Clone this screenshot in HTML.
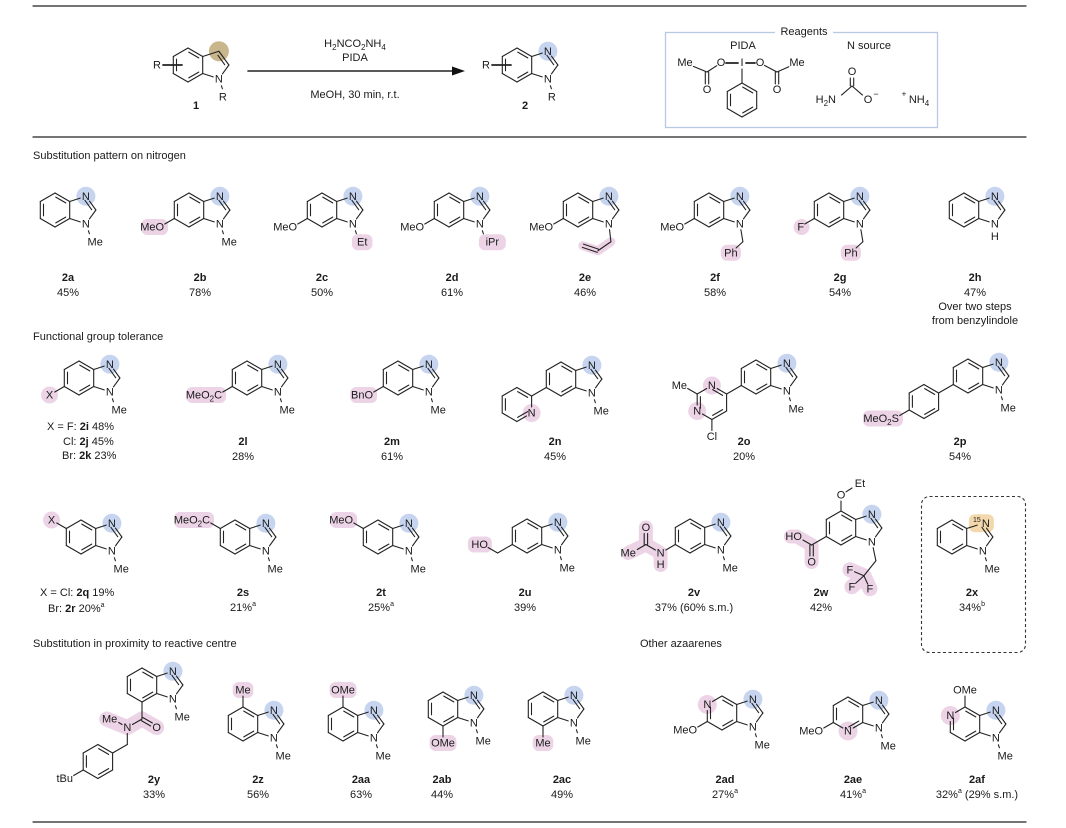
<!DOCTYPE html>
<html><head><meta charset="utf-8">
<style>
body{margin:0;background:#fff}
svg{display:block;font-family:"Liberation Sans",Arial,sans-serif;font-size:11px;fill:#1a1a1a}
</style></head><body>
<svg id="s" width="1066" height="828" viewBox="0 0 1066 828">
<text x="33" y="159">Substitution pattern on nitrogen</text>
<text x="33" y="340">Functional group tolerance</text>
<text x="33" y="647">Substitution in proximity to reactive centre</text>
<text x="640" y="647">Other azaarenes</text>
</svg>
<script>
let bg='',fg='';
const BL='#c6d4ef',PK='#ecd4e6',OR='#f4d8ad',BR='#c9b68c';
const h=14.7;
function L(a,b,c,d,w){fg+=`<line x1="${a}" y1="${b}" x2="${c}" y2="${d}" stroke="#222" stroke-width="${w||1.1}" stroke-linecap="round"/>`}
function bond(p,q,ta,tb,w){ta=ta||0;tb=tb||0;const dx=q[0]-p[0],dy=q[1]-p[1],l=Math.hypot(dx,dy),ux=dx/l,uy=dy/l;L(p[0]+ux*ta,p[1]+uy*ta,q[0]-ux*tb,q[1]-uy*tb,w)}
function dbond(p,q,ta,tb){ta=ta||0;tb=tb||0;const dx=q[0]-p[0],dy=q[1]-p[1],l=Math.hypot(dx,dy),ux=dx/l,uy=dy/l,nx=-uy*1.7,ny=ux*1.7;
 L(p[0]+ux*ta+nx,p[1]+uy*ta+ny,q[0]-ux*tb+nx,q[1]-uy*tb+ny);L(p[0]+ux*ta-nx,p[1]+uy*ta-ny,q[0]-ux*tb-nx,q[1]-uy*tb-ny);}
function ib(p,q,c){const mx=(p[0]+q[0])/2,my=(p[1]+q[1])/2;let vx=c[0]-mx,vy=c[1]-my;const l=Math.hypot(vx,vy);vx=vx/l*3.2;vy=vy/l*3.2;const f=0.16;
 L(p[0]+(q[0]-p[0])*f+vx,p[1]+(q[1]-p[1])*f+vy,q[0]+(p[0]-q[0])*f+vx,q[1]+(p[1]-q[1])*f+vy)}
function T(x,y,s,a,ex){fg+=`<text x="${x}" y="${y}" text-anchor="${a||'middle'}" dominant-baseline="central" ${ex||''}>${s}</text>`}
function circ(x,y,r,c){bg+=`<circle cx="${x}" cy="${y}" r="${r}" fill="${c}"/>`}
function rr(x,y,w,hh,c){bg+=`<rect x="${x}" y="${y}" width="${w}" height="${hh}" rx="6" fill="${c}"/>`}
function pkp(pts,w){bg+=`<polyline points="${pts.map(p=>p.join(',')).join(' ')}" fill="none" stroke="${PK}" stroke-width="${w||14}" stroke-linecap="round" stroke-linejoin="round"/>`}
function hex(cx,cy){return {T:[cx,cy-17],UR:[cx+h,cy-8.5],LR:[cx+h,cy+8.5],B:[cx,cy+17],LL:[cx-h,cy+8.5],UL:[cx-h,cy-8.5],c:[cx,cy]}}
const ORD=['T','UR','LR','B','LL','UL'];
const DB=[['UL','LL'],['T','UR'],['LR','B']];
function ring(H,het,dbl){het=het||{};for(let i=0;i<6;i++){const a=ORD[i],b=ORD[(i+1)%6];bond(H[a],H[b],het[a]?6:0,het[b]?6:0)}(dbl||DB).forEach(e=>ib(H[e[0]],H[e[1]],H.c))}
const sub2='<tspan font-size="8" dy="3">2</tspan>';
function bim(cx,cy,o){o=o||{};const H=hex(cx,cy);
 const N3=[cx+30.9,cy-13.75],C2=[cx+40.9,cy],N1=[cx+30.9,cy+13.75];
 const het={};if(o.aza)het[o.aza]=1;
 ring(H,het);
 bond(H.UR,N3,0,6);bond(N3,C2,6,0);bond(C2,N1,0,6);bond(N1,H.LR,6,0);
 ib(N3,C2,[cx+h+11.7,cy]);
 if(o.n15){rr(N3[0]-14,N3[1]-9,25,18,OR);T(N3[0]-6,N3[1]-3,'15','middle','font-size="7"');T(N3[0]+3,N3[1]+0.5,'N');}
 else{circ(N3[0],N3[1],9.5,BL);T(N3[0],N3[1]+0.5,'N');}
 T(N1[0],N1[1]+0.5,'N');
 if(o.aza){const a=H[o.aza];circ(a[0],a[1],9.5,PK);T(a[0],a[1]+0.5,'N');}
 if(o.nh){T(N1[0],N1[1]+13,'H');}
 else{const n1=o.n1===undefined?'Me':o.n1;
 if(n1){L(N1[0]+2.5,N1[1]+7,N1[0]+3.5,N1[1]+10);const w=n1.length*6.3;if(o.n1pk)rr(N1[0]+3+w/2-w/2-4,N1[1]+10.5,w+8,16,PK);T(N1[0]+3+w/2,N1[1]+18.5,n1);}}
 H.N1=N1;H.N3=N3;return H;}
const DIR={LL:[-0.866,0.5],UL:[-0.866,-0.5],T:[0,-1],B:[0,1]};
function sub(H,k,txt,al,pk,W){const d=DIR[k],p=H[k];const E=[p[0]+d[0]*17,p[1]+d[1]*17];
 bond(p,E,0,6);W=W||txt.replace(/<[^>]+>/g,'').length*6.3;let x=E[0],a='middle';
 if(al==='end'){x=E[0]+4.5;a='end';if(pk)rr(x-W-4,E[1]-8,W+8,16,pk)}
 else if(pk){if(W<10)circ(E[0],E[1],8.5,pk);else rr(x-W/2-4,E[1]-8,W+8,16,pk)}
 T(x,E[1]+0.5,txt,a);return E;}
function lbl(x,y,b,yl,extra){T(x,y,`<tspan font-weight="bold">${b}</tspan>`);T(x,y+15,yl);}
const SA='<tspan font-size="7" dy="-4">a</tspan>',SB='<tspan font-size="7" dy="-4">b</tspan>';

/* ===== header scheme ===== */
L(33,6,1026,6,1.2);L(33,137,1026,137,1.2);L(33,822,1026,822,1.2);
function indoleLike(cx,cy,isN){const H=hex(cx,cy);ring(H);
 const C3=[cx+30.9,cy-13.75],C2=[cx+40.9,cy],N1=[cx+30.9,cy+13.75];
 if(isN){circ(C3[0],C3[1],9.5,BL);T(C3[0],C3[1]+0.5,'N');bond(H.UR,C3,0,6);bond(C3,C2,6,0);}
 else{circ(C3[0],C3[1],10,BR);bond(H.UR,C3);bond(C3,C2);}
 ib(C3,C2,[cx+h+11.7,cy]);bond(C2,N1,0,6);bond(N1,H.LR,6,0);
 T(N1[0],N1[1]+0.5,'N');L(N1[0]+2.5,N1[1]+7,N1[0]+3.5,N1[1]+10);T(N1[0]+4,N1[1]+18.5,'R');
 L(cx-25,cy,cx-6,cy,1.8);T(cx-31,cy+0.5,'R');}
indoleLike(188,65,false);T(196,106,'<tspan font-weight="bold">1</tspan>');
indoleLike(517,65,true);T(525,106,'<tspan font-weight="bold">2</tspan>');
L(248,71,455,71,1.6);fg+='<polygon points="465,71 452,66.5 452,75.5" fill="#111"/>';
T(355,44,'H'+sub2+'<tspan dy="-3">NCO</tspan>'+sub2+'<tspan dy="-3">NH</tspan><tspan font-size="8" dy="3">4</tspan>');
T(355,58,'PIDA');T(355,95,'MeOH, 30 min, r.t.');
/* reagents box */
bg+='<rect x="665.5" y="32.5" width="272" height="95" fill="none" stroke="#b9c8e3" stroke-width="1.3"/>';
bg+='<rect x="775" y="25" width="58" height="14" fill="#fff"/>';
T(804,32,'Reagents');T(743,46,'PIDA');T(869,46,'N source');
T(685,63,'Me');T(721,63,'O');T(742,63,'I');T(760,63,'O');T(797,63,'Me');
const Ca=[707,72],Cb=[777,72];
bond([685,63],Ca,9,0);bond(Ca,[721,63],0,5);dbond(Ca,[707,90],0,6);T(707,90,'O');
bond([721,63],[742,63],5,4,1.8);bond([742,63],[760,63],4,5,1.8);
bond([760,63],Cb,5,0);bond(Cb,[797,63],0,9);dbond(Cb,[777,90],0,6);T(777,90,'O');
const Ph=hex(742,100);bond([742,63],Ph.T,6,0);ring(Ph);
const Cc=[852,86];dbond(Cc,[852,72],0,6);T(852,72,'O');bond(Cc,[837,99],0,6);bond(Cc,[867,99],0,6);
T(836,100,'H'+sub2+'<tspan dy="-3">N</tspan>','end');T(868,100,'O');T(876,94,'−','middle','font-size="9"');
T(904,94,'+','middle','font-size="8"');T(919,100,'NH<tspan font-size="8" dy="3">4</tspan>');

/* ===== row 1 ===== */
let H;
bim(55,210);lbl(68,278,'2a','45%');
H=bim(189,210);sub(H,'LL','MeO','end',PK);lbl(200,278,'2b','78%');
H=bim(322,210,{n1:'Et',n1pk:1});sub(H,'LL','MeO','end');lbl(322,278,'2c','50%');
H=bim(449,210,{n1:'iPr',n1pk:1});sub(H,'LL','MeO','end');lbl(452,278,'2d','61%');
H=bim(578,210,{n1:null});sub(H,'LL','MeO','end');
{const N=H.N1,a=[N[0]+2,N[1]+18],b=[a[0]-13,a[1]+9],c=[b[0]-15,b[1]-5];pkp([a,b,c],9);bond(N,a,6,0);bond(a,b);dbond(b,c);}
lbl(585,278,'2e','46%');
H=bim(709,210,{n1:null});sub(H,'LL','MeO','end');
{const N=H.N1,a=[N[0]+3,N[1]+18],p=[a[0]-12,a[1]+11];bond(N,a,6,0);bond(a,p,0,7);rr(p[0]-10,p[1]-8,20,16,PK);T(p[0],p[1]+0.5,'Ph');}
lbl(715,278,'2f','58%');
H=bim(829,210,{n1:null});sub(H,'LL','F','end',null);circ(H.LL[0]-14.7-0+2,H.LL[1]+8.5,8,PK);
{const N=H.N1,a=[N[0]+3,N[1]+18],p=[a[0]-12,a[1]+11];bond(N,a,6,0);bond(a,p,0,7);rr(p[0]-10,p[1]-8,20,16,PK);T(p[0],p[1]+0.5,'Ph');}
lbl(840,278,'2g','54%');
bim(964,210,{nh:1});lbl(975,278,'2h','47%');T(975,307,'Over two steps');T(975,321,'from benzylindole');

/* ===== row 2 ===== */
H=bim(79,378);sub(H,'LL','X','mid',PK);
T(47,427,'X = F: <tspan font-weight="bold">2i</tspan> 48%','start');
T(63,442,'Cl: <tspan font-weight="bold">2j</tspan> 45%','start');
T(62,456,'Br: <tspan font-weight="bold">2k</tspan> 23%','start');
H=bim(247,378);sub(H,'LL','MeO'+sub2+'<tspan dy="-3">C</tspan>','end',PK,32);lbl(243,442,'2l','28%');
H=bim(398,378);sub(H,'LL','BnO','end',PK);lbl(392,442,'2m','61%');
H=bim(561,379);{const A=[H.LL[0]-14.7,H.LL[1]+8.5];bond(H.LL,A);const P=hex(A[0]-14.7,A[1]+8.5);ring(P,{LR:1});circ(P.LR[0],P.LR[1],9,PK);T(P.LR[0],P.LR[1]+0.5,'N');}
lbl(555,442,'2n','45%');
H=bim(756,377);{const A=[H.LL[0]-14.7,H.LL[1]+8.5];bond(H.LL,A);const P=hex(A[0]-14.7,A[1]+8.5);ring(P,{T:1,LL:1});
 circ(P.T[0],P.T[1],9,PK);T(P.T[0],P.T[1]+0.5,'N');circ(P.LL[0],P.LL[1],9,PK);T(P.LL[0],P.LL[1]+0.5,'N');
 sub(P,'UL','Me','end');sub(P,'B','Cl','mid');}
lbl(744,442,'2o','20%');
H=bim(968,376);{const A=[H.LL[0]-14.7,H.LL[1]+8.5];bond(H.LL,A);const P=hex(A[0]-14.7,A[1]+8.5);ring(P);
 sub(P,'LL','MeO'+sub2+'<tspan dy="-3">S</tspan>','end',PK,32);}
lbl(960,442,'2p','54%');

/* ===== row 3 ===== */
H=bim(81,537);sub(H,'UL','X','mid',PK);
T(40,593,'X = Cl: <tspan font-weight="bold">2q</tspan> 19%','start');
T(48,609,'Br: <tspan font-weight="bold">2r</tspan> 20%'+SA,'start');
H=bim(235,537);sub(H,'UL','MeO'+sub2+'<tspan dy="-3">C</tspan>','end',PK,32);lbl(243,593,'2s','21%'+SA);
H=bim(378,537);sub(H,'UL','MeO','end',PK);lbl(381,593,'2t','25%'+SA);
H=bim(527,536);{const C=[H.LL[0]-14.7,H.LL[1]+8.5];bond(H.LL,C);const O=[C[0]-14.7,C[1]-8.5];bond(C,O,0,6);rr(O[0]-15,O[1]-8,24,16,PK);T(O[0]+5,O[1]+0.5,'HO','end');}
lbl(525,593,'2u','39%');
H=bim(690,536);{const N=[H.LL[0]-14.7,H.LL[1]+8.5];bond(H.LL,N,0,6);const C=[N[0]-14.7,N[1]-8.5];const O=[C[0],C[1]-17];const M=[C[0]-14.7,C[1]+8.5];
 pkp([[N[0],N[1]+12],N,C,O],14);pkp([C,[M[0]-3,M[1]]],14);
 T(N[0],N[1]+0.5,'N');T(N[0],N[1]+12,'H');bond(N,C,6,0);dbond(C,O,0,6);T(O[0],O[1]+0.5,'O');bond(C,M,0,7);T(M[0]-3,M[1]+0.5,'Me');}
lbl(694,593,'2v','37% (60% s.m.)');
H=bim(841,528,{n1:null});
{const O=[H.T[0],H.T[1]-16];bond(H.T,O,0,6);T(O[0],O[1]+0.5,'O');bond(O,[O[0]+11,O[1]-7],6,0);T(O[0]+19,O[1]-11,'Et');
 const C=[H.LL[0]-14.7,H.LL[1]+8.5];bond(H.LL,C);const HO=[C[0]-14.7,C[1]-8.5];const Od=[C[0],C[1]+17];
 pkp([[HO[0]-6,HO[1]],HO,C,Od],14);bond(C,HO,0,7);T(HO[0]+5,HO[1]+0.5,'HO','end');dbond(C,Od,0,6);T(Od[0],Od[1]+0.5,'O');
 const N=H.N1,a=[N[0]+4,N[1]+19],cf=[a[0]-12,a[1]+15];bond(N,a,6,0);bond(a,cf);
 const F=[[cf[0]-14,cf[1]-6],[cf[0]-12,cf[1]+11],[cf[0]+6,cf[1]+13]];
 pkp([F[0],cf,F[2]],15);pkp([cf,F[1]],15);
 F.forEach(f=>{bond(cf,f,0,5);T(f[0],f[1]+0.5,'F');});}
lbl(821,593,'2w','42%');
bg+='<rect x="921.5" y="496.5" width="104" height="156" rx="8" fill="none" stroke="#333" stroke-width="1.1" stroke-dasharray="3,2.5"/>';
bim(952,537,{n15:1});lbl(972,593,'2x','34%'+SB);

/* ===== row 4 ===== */
H=bim(142,685);
{const C=[H.B[0],H.B[1]+17];bond(H.B,C);const O=[C[0]+14.7,C[1]+8.5],N=[C[0]-14.7,C[1]+8.5],M=[N[0]-14.7,N[1]-8.5],CH=[N[0],N[1]+17];
 pkp([[M[0]-6,M[1]],N,C,O],15);
 dbond(C,O,0,6);T(O[0],O[1]+0.5,'O');bond(C,N,0,6);T(N[0],N[1]+0.5,'N');bond(N,M,6,7);T(M[0]-3,M[1]+0.5,'Me');
 bond(N,CH,6,0);const A=[CH[0]-14.7,CH[1]+8.5];bond(CH,A);const P=hex(A[0]-14.7,A[1]+8.5);ring(P);sub(P,'LL','tBu','end');}
lbl(154,780,'2y','33%');
H=bim(243,724);sub(H,'T','Me','mid',PK);lbl(258,780,'2z','56%');
H=bim(343,724);sub(H,'T','OMe','mid',PK);lbl(361,780,'2aa','63%');
H=bim(443,709);sub(H,'B','OMe','mid',PK);lbl(442,780,'2ab','44%');
H=bim(543,709);sub(H,'B','Me','mid',PK);lbl(562,780,'2ac','49%');
H=bim(722,713,{aza:'UL'});sub(H,'LL','MeO','end');lbl(725,780,'2ad','27%'+SA);
H=bim(848,714,{aza:'B'});sub(H,'LL','MeO','end');lbl(853,780,'2ae','41%'+SA);
H=bim(965,724,{aza:'UL'});sub(H,'T','OMe','mid');lbl(977,780,'2af','32%'+SA+'<tspan dy="4"> (29% s.m.)</tspan>');

const s=document.getElementById('s');
s.insertAdjacentHTML('afterbegin',bg);
s.insertAdjacentHTML('beforeend',fg);
</script>
</body></html>
